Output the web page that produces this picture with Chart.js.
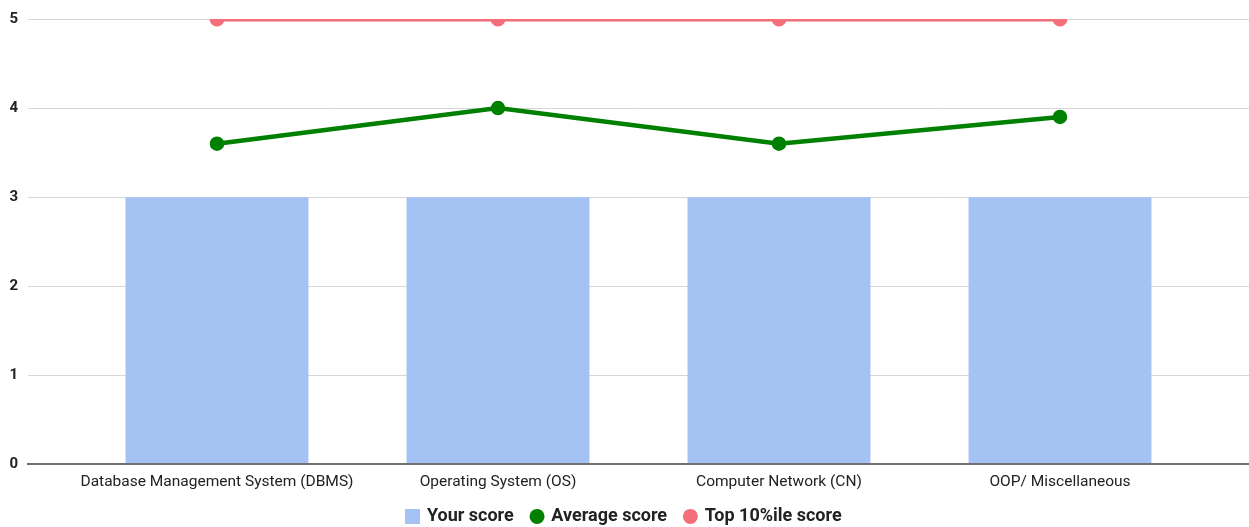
<!DOCTYPE html>
<html>
<head>
<meta charset="utf-8">
<title>Scores by subject</title>
<script src="https://cdn.jsdelivr.net/npm/chart.js@4.4.1/dist/chart.umd.min.js"></script>
<style>
    html, body { margin: 0; padding: 0; background: #fff; overflow: hidden; }
    #chartDiv { width: 1249px; height: 527px; }
</style>
</head>
<body>
<div id="chartDiv"><canvas id="myChart"></canvas></div>
<script>
// Subject scores: yours vs average vs top 10%

const subjects = ["Database Management System (DBMS)", "Operating System (OS)", "Computer Network (CN)", "OOP/ Miscellaneous"];
const yourScore = [3, 3, 3, 3];
const averageScore = [3.6, 4, 3.6, 3.9];
const topScore = [5, 5, 5, 5];
const yTicks = [0, 1, 2, 3, 4, 5];

const toPoints = (values) => values.map((v, i) => ({ x: i, y: v }));

// square swatch for the bar series in the legend
const squareSwatch = (color, size) => {
    const c = document.createElement("canvas");
    c.width = size;
    c.height = size;
    const ctx = c.getContext("2d");
    ctx.fillStyle = color;
    ctx.fillRect(0, 0, size, size);
    return c;
};

Chart.defaults.font.family = "Roboto";
Chart.defaults.color = "#222";

const chart = document.getElementById("myChart");

new Chart(chart, {
    type: "bar",
    data: {
        datasets: [{
            label: "Your score",
            data: toPoints(yourScore),
            backgroundColor: "#a4c2f4",
            barPercentage: 0.651,
            categoryPercentage: 1,
            order: 3
        }, {
            type: "line",
            label: "Average score",
            data: toPoints(averageScore),
            borderColor: "#008000",
            backgroundColor: "#008000",
            borderWidth: 4.5,
            pointRadius: 5,
            pointHoverRadius: 5,
            order: 2
        }, {
            type: "line",
            label: "Top 10%ile score",
            data: toPoints(topScore),
            borderColor: "#f46f79",
            backgroundColor: "#f46f79",
            borderWidth: 5,
            pointRadius: 5,
            pointHoverRadius: 5,
            clip: 0,
            order: 4
        }]
    },
    options: {
        responsive: true,
        maintainAspectRatio: false,
        animation: false,
        layout: {
            autoPadding: false,
            padding: { top: 19, right: 0, left: 0, bottom: -8.4 }
        },
        scales: {
            x: {
                type: "linear",
                min: -0.6726,
                max: 3.6726,
                offset: false,
                grid: { display: false },
                border: { display: true, color: "#707070", width: 2, z: 1 },
                afterBuildTicks: (axis) => {
                    axis.ticks = subjects.map((s, i) => ({ value: i }));
                },
                afterFit: (axis) => {
                    axis.height = 25;
                },
                ticks: {
                    autoSkip: false,
                    maxRotation: 0,
                    padding: 0,
                    font: { size: 15.5 },
                    callback: (value) => subjects[value]
                }
            },
            y: {
                min: 0,
                max: 5,
                afterBuildTicks: (axis) => {
                    axis.ticks = yTicks.map(v => ({ value: v }));
                },
                afterFit: (axis) => {
                    axis.width = 28;
                },
                grid: {
                    color: (ctx) => ctx.tick && ctx.tick.value === 0 ? "rgba(0,0,0,0)" : "#d6d6d6",
                    lineWidth: 1,
                    drawTicks: false
                },
                border: { display: false },
                ticks: {
                    padding: 10,
                    font: { size: 15, weight: "bold" }
                }
            }
        },
        plugins: {
            legend: {
                position: "bottom",
                labels: {
                    usePointStyle: true,
                    boxWidth: 10.6,
                    boxHeight: 10.6,
                    padding: 18,
                    color: "#222",
                    font: { size: 18, weight: "bold" },
                    sort: (a, b) => a.datasetIndex - b.datasetIndex,
                    generateLabels: (c) => {
                        const items = Chart.defaults.plugins.legend.labels.generateLabels(c);
                        items.forEach(item => {
                            item.pointStyle = item.text === "Your score" ? squareSwatch("#a4c2f4", 15) : "circle";
                            item.lineWidth = 0;
                        });
                        return items;
                    }
                }
            },
            tooltip: { enabled: false }
        }
    }
});
</script>
</body>
</html>
